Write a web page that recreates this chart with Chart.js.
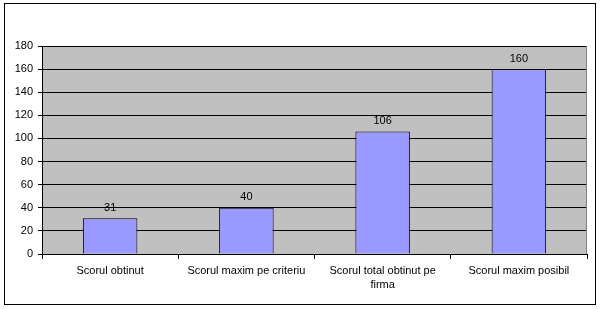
<!DOCTYPE html>
<html>
<head>
<meta charset="utf-8">
<script src="https://cdn.jsdelivr.net/npm/chart.js@4/dist/chart.umd.min.js"></script>
<style>
  html, body { margin: 0; padding: 0; background: #fff; }
  #wrap { width: 600px; height: 309px; }
</style>
</head>
<body>
<div id="wrap"><canvas id="scoreChart" width="600" height="309"></canvas></div>
<script>
const categories = [
    'Scorul obtinut',
    'Scorul maxim pe criteriu',
    ['Scorul total obtinut pe', 'firma'],
    'Scorul maxim posibil'
];
const scores = [31, 40, 106, 160];
const yTicks = [0, 20, 40, 60, 80, 100, 120, 140, 160, 180];

// gray plot area, frame around the whole picture
const framePlugin = {
    id: 'frame',
    beforeDraw(chart) {
        const ctx = chart.ctx;
        const a = chart.chartArea;
        ctx.save();
        ctx.fillStyle = '#fff';
        ctx.fillRect(0, 0, chart.width, chart.height);
        ctx.fillStyle = '#c0c0c0';
        ctx.fillRect(a.left, a.top, a.right - a.left, a.bottom - a.top);
        ctx.strokeStyle = '#000';
        ctx.lineWidth = 1;
        ctx.strokeRect(4.5, 3.5, 591, 301);
        ctx.restore();
    },
    afterDatasetsDraw(chart) {
        const ctx = chart.ctx;
        const a = chart.chartArea;
        ctx.save();
        ctx.strokeStyle = '#808080';
        ctx.lineWidth = 1;
        ctx.beginPath();
        ctx.moveTo(Math.round(a.right) - 0.5, a.top);
        ctx.lineTo(Math.round(a.right) - 0.5, a.bottom);
        ctx.stroke();
        // value labels over the bars
        ctx.fillStyle = '#000';
        ctx.font = '11px "Liberation Sans", Arial, sans-serif';
        ctx.textAlign = 'center';
        ctx.textBaseline = 'bottom';
        chart.getDatasetMeta(0).data.forEach((bar, i) => {
            ctx.fillText(String(scores[i]), bar.x, bar.y - 5);
        });
        ctx.restore();
    }
};

new Chart(document.getElementById('scoreChart'), {
    type: 'bar',
    data: {
        labels: categories,
        datasets: [{
            data: scores,
            backgroundColor: '#9999ff',
            borderColor: '#000',
            borderWidth: 1,
            categoryPercentage: 0.8,
            barPercentage: 0.5
        }]
    },
    options: {
        responsive: false,
        animation: false,
        events: [],
        layout: { padding: { top: 46, right: 13, bottom: 0, left: 0 } },
        plugins: {
            legend: { display: false },
            tooltip: { enabled: false }
        },
        scales: {
            x: {
                grid: {
                    offset: true,
                    drawOnChartArea: false,
                    color: '#000',
                    tickLength: 5
                },
                border: { color: '#000' },
                ticks: {
                    color: '#000',
                    maxRotation: 0,
                    autoSkip: false,
                    padding: 5,
                    font: { family: '"Liberation Sans", Arial, sans-serif', size: 11, lineHeight: 1.3 }
                },
                afterFit(scale) { scale.height = 55; }
            },
            y: {
                min: 0,
                max: 180,
                afterBuildTicks(scale) {
                    scale.ticks = yTicks.map(v => ({ value: v }));
                },
                grid: {
                    color: '#000',
                    tickLength: 4
                },
                border: { color: '#000' },
                ticks: {
                    color: '#000',
                    padding: 5,
                    font: { family: '"Liberation Sans", Arial, sans-serif', size: 11 }
                },
                afterFit(scale) { scale.width = 42; }
            }
        }
    },
    plugins: [framePlugin]
});
</script>
</body>
</html>
